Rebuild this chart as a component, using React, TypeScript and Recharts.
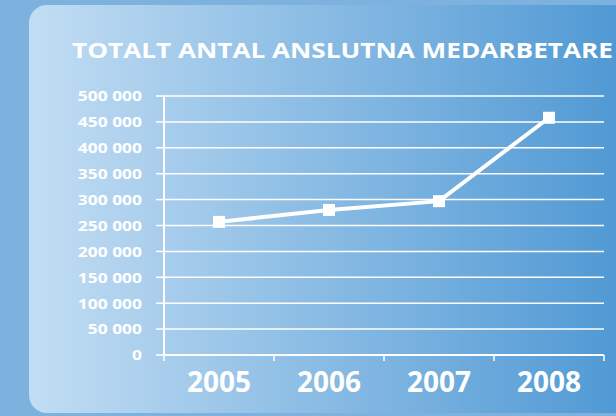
import React from 'react';
import { ComposedChart, Line, XAxis, YAxis, CartesianGrid } from 'recharts';

const years = ['2005', '2006', '2007', '2008'];
const employees = [257000, 280000, 297000, 458000];
const yTicks = [0, 50000, 100000, 150000, 200000, 250000, 300000, 350000, 400000, 450000, 500000];
const title = 'TOTALT ANTAL ANSLUTNA MEDARBETARE';

const data = years.map((y, i) => ({ year: y, value: employees[i] }));

const W = 616;
const H = 416;
const MARGIN = { top: 96, right: 12, left: 0, bottom: 11 };
const Y_AXIS_W = 164;
const PLOT_W = W - MARGIN.left - MARGIN.right - Y_AXIS_W;
const HALF_BAND = PLOT_W / years.length / 2;

const fmt = (v: number) => String(v).replace(/\B(?=(\d{3})+(?!\d))/g, ' ');

const XTick = (props: any) => {
  const { x, y, payload, index } = props;
  const last = index === years.length - 1;
  return (
    <g>
      <line x1={x - HALF_BAND} x2={x - HALF_BAND} y1={y} y2={y + 6} stroke="#fff" strokeWidth={1.5} />
      {last && <line x1={x + HALF_BAND} x2={x + HALF_BAND} y1={y} y2={y + 6} stroke="#fff" strokeWidth={1.5} />}
      <text x={x} y={y + 36.5} textAnchor="middle" fill="#fff" fontFamily="'Open Sans'" fontWeight={700} fontSize={28}>
        {payload.value}
      </text>
    </g>
  );
};

const YTick = (props: any) => {
  const { x, y, payload } = props;
  return (
    <text
      transform={`translate(${x},${y + 5.3}) scale(1.16,1)`}
      textAnchor="end"
      fill="#fff"
      fontFamily="'Open Sans'"
      fontWeight={700}
      fontSize={15}
    >
      {fmt(payload.value)}
    </text>
  );
};

const SquareDot = (props: any) => {
  const { cx, cy } = props;
  if (cx == null || cy == null) return null;
  return <rect x={cx - 6} y={cy - 6} width={12} height={12} fill="#fff" />;
};

export default function App() {
  return (
    <div style={{ position: 'absolute', left: 0, top: 0, width: W, height: H, background: '#7cb2dd', overflow: 'hidden' }}>
      <div
        style={{
          position: 'absolute',
          left: 29,
          top: 5,
          width: W,
          height: 408,
          borderRadius: 18,
          background: 'linear-gradient(to right, #c2ddf3 0%, #4b96d3 100%)',
        }}
      />
      <svg width={W} height={H} style={{ position: 'absolute', left: 0, top: 0 }}>
        <text
          x={72}
          y={57.5}
          fill="#fff"
          fontFamily="'Open Sans'"
          fontWeight={700}
          fontSize={21.5}
          textLength={541}
          lengthAdjust="spacingAndGlyphs"
        >
          {title}
        </text>
      </svg>
      <div style={{ position: 'absolute', left: 0, top: 0 }}>
        <ComposedChart width={W} height={H} data={data} margin={MARGIN}>
          <CartesianGrid horizontal vertical={false} stroke="#fff" strokeWidth={1.5} strokeOpacity={1} />
          <XAxis
            dataKey="year"
            scale="band"
            axisLine={{ stroke: '#fff', strokeWidth: 2 }}
            tickLine={false}
            tickSize={0}
            tickMargin={0}
            height={50}
            interval={0}
            tick={<XTick />}
          />
          <YAxis
            width={Y_AXIS_W}
            domain={[0, 500000]}
            ticks={yTicks}
            interval={0}
            axisLine={{ stroke: '#fff', strokeWidth: 2 }}
            tickLine={{ stroke: '#fff', strokeWidth: 1.5 }}
            tickSize={8}
            tickMargin={14}
            tick={<YTick />}
          />
          <Line
            type="linear"
            dataKey="value"
            stroke="#fff"
            strokeWidth={4}
            dot={<SquareDot />}
            activeDot={false}
            isAnimationActive={false}
          />
        </ComposedChart>
      </div>
    </div>
  );
}
